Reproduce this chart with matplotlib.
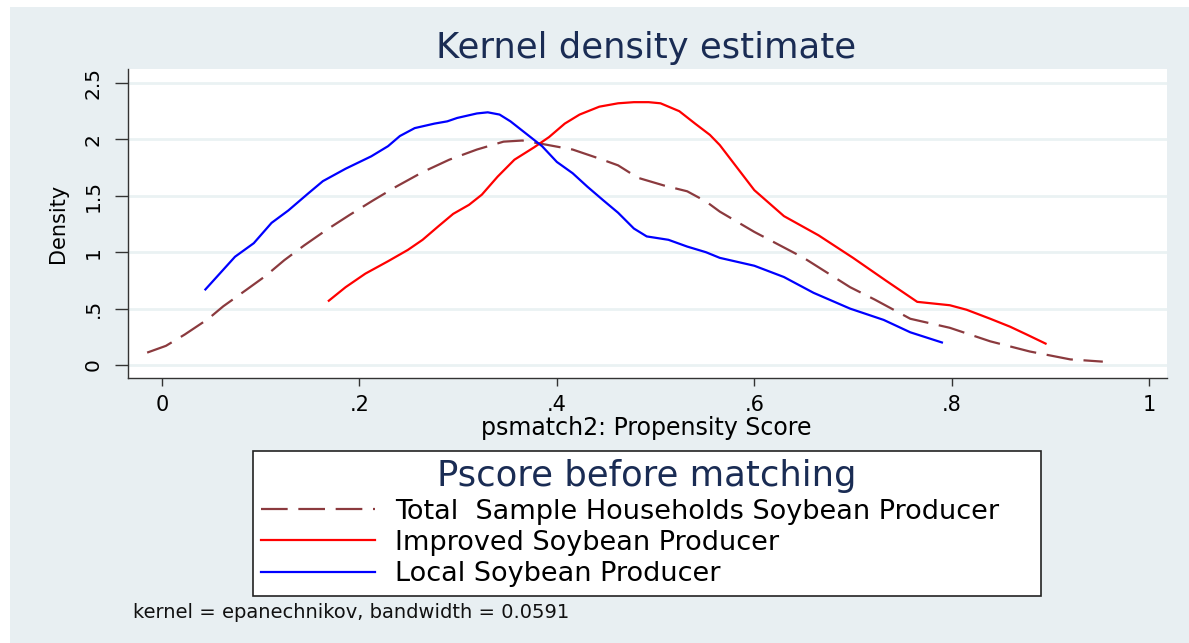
import matplotlib
matplotlib.use("Agg")
import matplotlib.pyplot as plt
from matplotlib.patches import Rectangle

# ---- data ----
local_x = [0.044, 0.074, 0.093, 0.111, 0.128, 0.148, 0.163, 0.186, 0.212, 0.229, 0.241, 0.256,
           0.276, 0.289, 0.299, 0.319, 0.330, 0.342, 0.353, 0.369, 0.385, 0.400, 0.416, 0.431,
           0.447, 0.462, 0.478, 0.491, 0.513, 0.532, 0.551, 0.565, 0.600, 0.630, 0.660, 0.697,
           0.731, 0.758, 0.790]
local_y = [0.67, 0.96, 1.08, 1.26, 1.37, 1.52, 1.63, 1.74, 1.85, 1.94, 2.03, 2.10,
           2.14, 2.16, 2.19, 2.23, 2.24, 2.22, 2.16, 2.05, 1.94, 1.80, 1.70, 1.58,
           1.46, 1.35, 1.21, 1.14, 1.11, 1.05, 1.00, 0.95, 0.88, 0.78, 0.64, 0.50,
           0.40, 0.29, 0.20]

improved_x = [0.169, 0.186, 0.206, 0.229, 0.249, 0.264, 0.280, 0.295, 0.311, 0.324, 0.340, 0.357,
              0.377, 0.392, 0.408, 0.423, 0.443, 0.462, 0.478, 0.493, 0.505, 0.524, 0.540, 0.555,
              0.565, 0.600, 0.630, 0.665, 0.700, 0.733, 0.765, 0.798, 0.815, 0.839, 0.859, 0.876,
              0.895]
improved_y = [0.57, 0.69, 0.81, 0.92, 1.02, 1.11, 1.23, 1.34, 1.42, 1.51, 1.67, 1.82,
              1.93, 2.02, 2.14, 2.22, 2.29, 2.32, 2.33, 2.33, 2.32, 2.25, 2.14, 2.04,
              1.95, 1.55, 1.32, 1.15, 0.95, 0.75, 0.56, 0.53, 0.49, 0.41, 0.34, 0.27,
              0.19]

total_x = [-0.015, 0.004, 0.023, 0.047, 0.062, 0.086, 0.105, 0.124, 0.144, 0.167, 0.190, 0.214,
           0.237, 0.264, 0.291, 0.319, 0.346, 0.365, 0.385, 0.416, 0.443, 0.462, 0.482, 0.509,
           0.532, 0.551, 0.565, 0.600, 0.650, 0.697, 0.722, 0.758, 0.798, 0.839, 0.879, 0.920,
           0.953]
total_y = [0.11, 0.17, 0.27, 0.41, 0.52, 0.67, 0.79, 0.93, 1.06, 1.20, 1.33, 1.46,
           1.58, 1.71, 1.82, 1.91, 1.98, 1.99, 1.96, 1.91, 1.83, 1.77, 1.66, 1.59,
           1.54, 1.45, 1.36, 1.18, 0.95, 0.69, 0.58, 0.41, 0.33, 0.21, 0.12, 0.05,
           0.03]

x_ticks = [0, 0.2, 0.4, 0.6, 0.8, 1.0]
x_ticklabels = ["0", ".2", ".4", ".6", ".8", "1"]
y_ticks = [0, 0.5, 1, 1.5, 2, 2.5]
y_ticklabels = ["0", ".5", "1", "1.5", "2", "2.5"]

series_labels = ["Total  Sample Households Soybean Producer",
                 "Improved Soybean Producer",
                 "Local Soybean Producer"]

# ---- figure ----
W, H = 1189, 643
plt.rcParams['font.family'] = ['DejaVu Sans']
fig = plt.figure(figsize=(W / 100, H / 100), dpi=100, facecolor="white")

def fx(px):
    return px / W

def fy(py):
    return 1 - py / H

# graph region background
fig.patches.append(Rectangle((fx(10), 0), 1 - fx(10), fy(7), transform=fig.transFigure,
                             facecolor="#e8eff2", edgecolor="none", zorder=-5))

left, right, top, bottom = 128, 1167, 69, 378
ax = fig.add_axes([fx(left), fy(bottom), fx(right - left), fy(top) - fy(bottom)])
ax.set_facecolor("white")
ax.set_zorder(1)

ax.plot(total_x, total_y, color="#8b3a3e", lw=1.6, dashes=(12, 4.8), label=series_labels[0])
ax.plot(improved_x, improved_y, color="#ff0000", lw=1.6, label=series_labels[1])
ax.plot(local_x, local_y, color="#0000ff", lw=1.6, label=series_labels[2])

ax.set_xlim(-0.0344, 1.018)
ax.set_ylim(-0.115, 2.624)
ax.set_xticks(x_ticks)
ax.set_xticklabels(x_ticklabels)
ax.set_yticks(y_ticks)
ax.set_yticklabels(y_ticklabels)
ax.grid(axis="y", color="#eaf2f3", lw=2)
ax.set_axisbelow(True)

for s in ["top", "right"]:
    ax.spines[s].set_visible(False)
for s in ["left", "bottom"]:
    ax.spines[s].set_color("#333333")
    ax.spines[s].set_linewidth(1.0)

ax.tick_params(axis="x", length=5.8, width=1.0, color="#333333", pad=6.5, labelsize=15)
ax.tick_params(axis="y", length=9.4, width=1.0, color="#333333", pad=8.6, labelsize=14.5,
               labelrotation=90)
for lab in ax.get_yticklabels():
    lab.set_va("center")

ax.set_ylabel("Density", fontsize=15)
ax.yaxis.set_label_coords(-0.0577, 0.5)

fig.text(fx(646), fy(435), "psmatch2: Propensity Score", ha="center", va="baseline",
         fontsize=17)
fig.text(fx(646), fy(58), "Kernel density estimate", ha="center", va="baseline",
         fontsize=25.5, color="#1a2c54")
fig.text(fx(133), fy(618), "kernel = epanechnikov, bandwidth = 0.0591", ha="left",
         va="baseline", fontsize=14, color="#111111")

handles, labels = ax.get_legend_handles_labels()
leg = fig.legend(handles, labels, loc="upper left",
                 bbox_to_anchor=(fx(253), fy(592), fx(1041 - 253), fy(451) - fy(592)),
                 mode="expand", ncols=1, fontsize=19.5, title="Pscore before matching",
                 title_fontsize=25.5, handlelength=4.2, handletextpad=0.75, labelspacing=0.2,
                 borderpad=0.3, fancybox=False, framealpha=1, facecolor="white",
                 edgecolor="#222222", borderaxespad=0)
leg.get_frame().set_linewidth(1.2)
leg.get_title().set_color("#1a2c54")
leg.set_zorder(2)

fig.savefig("out.png", dpi=100, facecolor="white")
